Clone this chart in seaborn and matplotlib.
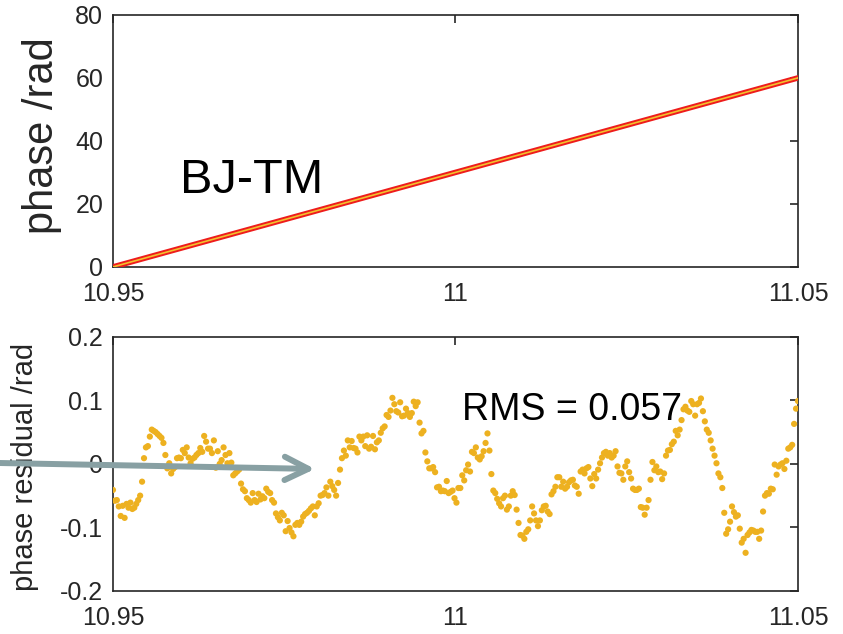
import numpy as np
import matplotlib
matplotlib.use("Agg")
import matplotlib.pyplot as plt
import seaborn as sns

# Unwrapped phase of the BJ-TM link over the observation window
t_phase = [10.95, 11.05]
phase = [0.0, 60.0]

# Phase residual after removing the linear trend (rad), in time order
res_a = [-0.041, -0.058, -0.057, -0.067, -0.082, -0.066, -0.085, -0.063, -0.069, -0.061,
         -0.071, -0.069, -0.063, -0.057, -0.050, -0.028, 0.009, 0.026, 0.028, 0.043,
         0.054, 0.052, 0.050, 0.047, 0.044, 0.041, 0.033, 0.014, -0.007, 0.001,
         -0.015, -0.008, -0.005, 0.009, 0.010, 0.009, 0.022, 0.017, 0.026, 0.010,
         0.001, 0.008, 0.010, 0.014, 0.017, 0.025, 0.019, 0.044, 0.035, 0.024,
         0.024, 0.017, 0.037, -0.006, 0.020, 0.000, 0.006, 0.026, 0.014, 0.001]
res_b = [0.017, 0.002, -0.018, -0.015, -0.012, -0.009, -0.031, -0.040, -0.043, -0.054,
         -0.057, -0.061, -0.046, -0.057, -0.060, -0.047, -0.056, -0.051, -0.054, -0.039,
         -0.044, -0.046, -0.057, -0.061, -0.078, -0.084, -0.089, -0.077, -0.081, -0.106,
         -0.090, -0.101, -0.108, -0.114, -0.096, -0.093, -0.096, -0.091, -0.083, -0.079,
         -0.077, -0.074, -0.070, -0.067, -0.081, -0.067, -0.062, -0.050, -0.049, -0.046,
         -0.037, -0.050, -0.028, -0.035, -0.041, -0.050]
res_c = [-0.030, -0.009, 0.009, 0.021, 0.013, 0.037, 0.026, 0.036, 0.025, 0.024,
         0.018, 0.043, 0.037, 0.043, 0.028, 0.045, 0.024, 0.027, 0.044, 0.023,
         0.034, 0.037, 0.049, 0.056, 0.059, 0.077, 0.074, 0.084, 0.104, 0.094,
         0.083, 0.081, 0.097, 0.075, 0.076, 0.087, 0.080, 0.074, 0.080, 0.098,
         0.091, 0.097, 0.065, 0.048, 0.052, 0.018, 0.004, -0.007, -0.007, -0.005,
         -0.013, -0.037, -0.036, -0.043, -0.042, -0.043, -0.027, -0.046, -0.044, -0.042,
         -0.054, -0.061, -0.038]
res_d = [-0.038, -0.018, -0.026, -0.010, -0.001, -0.012, 0.019, 0.017, 0.026, 0.010,
         0.007, 0.012, 0.020, 0.033, 0.048, 0.021, -0.016, -0.042, -0.046, -0.055,
         -0.062, -0.067, -0.054, -0.050, -0.072, -0.067, -0.050, -0.043, -0.049, -0.072,
         -0.093, -0.112, -0.113, -0.118, -0.107, -0.103, -0.089, -0.067, -0.078, -0.089,
         -0.098, -0.089, -0.073, -0.067, -0.066, -0.075, -0.079, -0.048, -0.043, -0.036,
         -0.021, -0.021, -0.036, -0.028, -0.039, -0.036, -0.029, -0.026]
res_e = [-0.025, -0.034, -0.036, -0.047, -0.012, -0.009, -0.015, -0.007, -0.005, -0.023,
         -0.035, -0.016, -0.023, -0.009, 0.001, 0.010, 0.017, 0.019, 0.013, 0.017,
         0.010, 0.013, 0.020, -0.004, -0.014, -0.015, -0.025, -0.004, 0.004, -0.013,
         -0.023, -0.039, -0.041, -0.041, -0.039, -0.068, -0.069, -0.080, -0.069, -0.057,
         -0.025, 0.003, -0.010, -0.004, -0.013, -0.012, -0.024, -0.015, 0.013, 0.021,
         0.022, 0.031, 0.035, 0.052, 0.045, 0.054, 0.069, 0.086, 0.090]
res_f = [0.084, 0.082, 0.099, 0.094, 0.076, 0.094, 0.096, 0.103, 0.083, 0.067,
         0.054, 0.049, 0.037, 0.024, 0.013, 0.001, -0.015, -0.021, -0.038, -0.077,
         -0.110, -0.103, -0.091, -0.067, -0.076, -0.083, -0.081, -0.102, -0.124, -0.118,
         -0.140, -0.112, -0.108, -0.104, -0.105, -0.107, -0.107, -0.118, -0.105, -0.075,
         -0.050, -0.046, -0.047, -0.039, -0.040, -0.001, -0.017, -0.004, -0.001, 0.001,
         -0.008, 0.005, 0.024, 0.026, 0.030, 0.063, 0.087, 0.099]
residual = res_a + res_b + res_c + res_d + res_e + res_f
t_res = np.linspace(10.95, 11.05, len(residual))

rms_label = "RMS = 0.057"
link_label = "BJ-TM"

x_ticks = [10.95, 11.0, 11.05]
x_ticklabels = ["10.95", "11", "11.05"]
phase_ticks = [0, 20, 40, 60, 80]
phase_ticklabels = ["0", "20", "40", "60", "80"]
res_ticks = [-0.2, -0.1, 0.0, 0.1, 0.2]
res_ticklabels = ["-0.2", "-0.1", "0", "0.1", "0.2"]

sns.set_theme(style="white")
plt.rcParams["font.family"] = ["Liberation Sans", "DejaVu Sans"]

INK = "#262626"
TICK_FONT = ["Liberation Sans Narrow", "Liberation Sans", "DejaVu Sans"]

fig = plt.figure(figsize=(8.43, 6.34), dpi=100)
ax1 = fig.add_axes([0.134, 0.579, 0.8126, 0.3975])
ax2 = fig.add_axes([0.134, 0.068, 0.8126, 0.4006])

# Upper panel: phase line (red with a thin yellow core)
sns.lineplot(x=t_phase, y=phase, ax=ax1, color="#EE1C1C", linewidth=4.0,
             solid_capstyle="round", zorder=3)
sns.lineplot(x=t_phase, y=phase, ax=ax1, color="#F2C12E", linewidth=1.2,
             zorder=4)
ax1.set_ylim(0, 80)
ax1.set_yticks(phase_ticks)
ax1.set_yticklabels(phase_ticklabels)
ax1.text(10.9598, 23.5, link_label, fontsize=35, ha="left", va="baseline",
         color="black")
ax1.set_ylabel("phase /rad", fontsize=30, color=INK)
ax1.yaxis.set_label_coords(-0.074, 0.52)

# Lower panel: residual samples
sns.scatterplot(x=t_res, y=residual, ax=ax2, color="#EDB120", s=20,
                linewidth=0, edgecolor="none", zorder=3)
ax2.set_ylim(-0.2, 0.2)
ax2.set_yticks(res_ticks)
ax2.set_yticklabels(res_ticklabels)
ax2.text(11.001, 0.069, rms_label, fontsize=27, ha="left", va="baseline",
         color="black")
ax2.set_ylabel("phase residual /rad", fontsize=21, color=INK)
ax2.yaxis.set_label_coords(-0.108, 0.49)

for ax in (ax1, ax2):
    ax.set_xlim(10.95, 11.05)
    ax.set_xticks(x_ticks)
    ax.set_xticklabels(x_ticklabels)
    ax.set_xlabel("")
    ax.tick_params(axis="both", direction="in", top=True, right=True,
                   length=5.5, width=1.2, color=INK, labelcolor=INK,
                   labelsize=18)
    ax.tick_params(axis="x", pad=11)
    ax.tick_params(axis="y", pad=7)
    for lab in ax.get_xticklabels() + ax.get_yticklabels():
        lab.set_family(TICK_FONT)
    for side in ("left", "right", "top", "bottom"):
        ax.spines[side].set_visible(True)
        ax.spines[side].set_color(INK)
        ax.spines[side].set_linewidth(1.2)
    ax.grid(False)

# Pointer arrow into the residual trace
ax2.annotate("", xy=(0.3737, 0.2603), xytext=(0.0, 0.2697),
             xycoords="figure fraction", textcoords="figure fraction",
             arrowprops=dict(arrowstyle="->,head_length=0.85,head_width=0.42",
                             lw=4.3, color="#88A0A3", mutation_scale=20,
                             capstyle="round", joinstyle="round",
                             shrinkA=0, shrinkB=0),
             annotation_clip=False, zorder=10)

fig.savefig("out.png", dpi=100)
